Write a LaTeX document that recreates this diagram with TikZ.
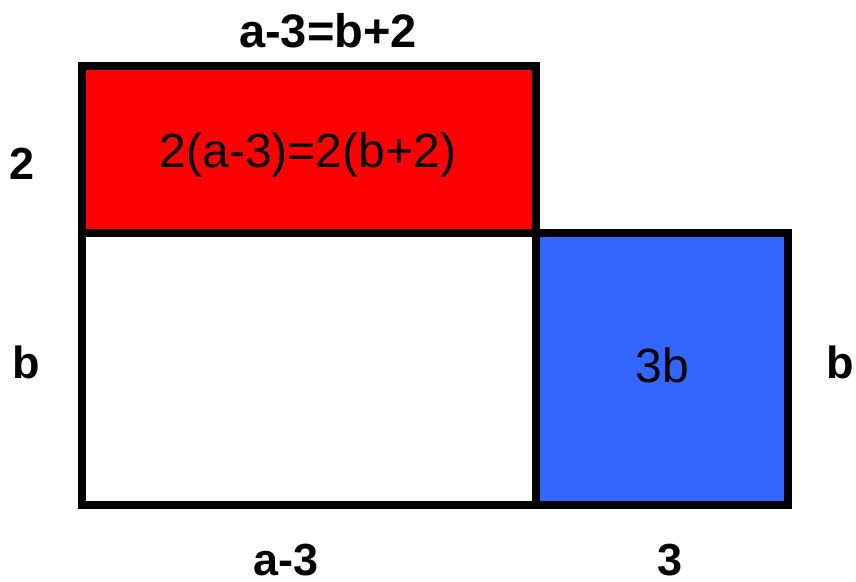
\documentclass[tikz,border=0pt]{standalone}
\usepackage{fontspec}
\setmainfont{Liberation Sans}
\definecolor{boxred}{HTML}{FF0000}
\definecolor{boxblue}{HTML}{3366FF}
\begin{document}
\begin{tikzpicture}[x=1pt,y=-1pt,
  box/.style={draw=black,line width=8pt,line join=miter},
  lbl/.style={inner sep=0pt,anchor=base,font=\fontsize{45}{54}\selectfont\bfseries},
  inlbl/.style={inner sep=0pt,anchor=base,font=\fontsize{48}{58}\selectfont}]
\useasboundingbox (0,0) rectangle (856,581);
\coordinate (tl) at (82,66);
\coordinate (ml) at (82,233);
\coordinate (mm) at (535.5,233);
\coordinate (tm) at (535.5,66);
\coordinate (bl) at (82,505);
\coordinate (bm) at (535.5,505);
\coordinate (br) at (787.5,505);
\coordinate (mr) at (787.5,233);
\fill[boxred] (tl) rectangle (mm);
\fill[white] (ml) rectangle (bm);
\fill[boxblue] (mm) rectangle (br);
\draw[box] (tl) rectangle (mm);
\draw[box] (ml) rectangle (bm);
\draw[box] (mm) rectangle (br);
\node[lbl,font=\fontsize{47}{56}\selectfont\bfseries] (top) at (328,47) {a-3=b+2};
\node[lbl] (two) at (22.5,179) {2};
\node[lbl] (bleft) at (26,378) {b};
\node[lbl] (bright) at (840,378) {b};
\node[lbl] (bot) at (286,575) {a-3};
\node[lbl] (three) at (670,575) {3};
\node[inlbl] (red) at (308,167) {2(a-3)=2(b+2)};
\node[inlbl] (blue) at (662,382) {3b};
\end{tikzpicture}
\end{document}
